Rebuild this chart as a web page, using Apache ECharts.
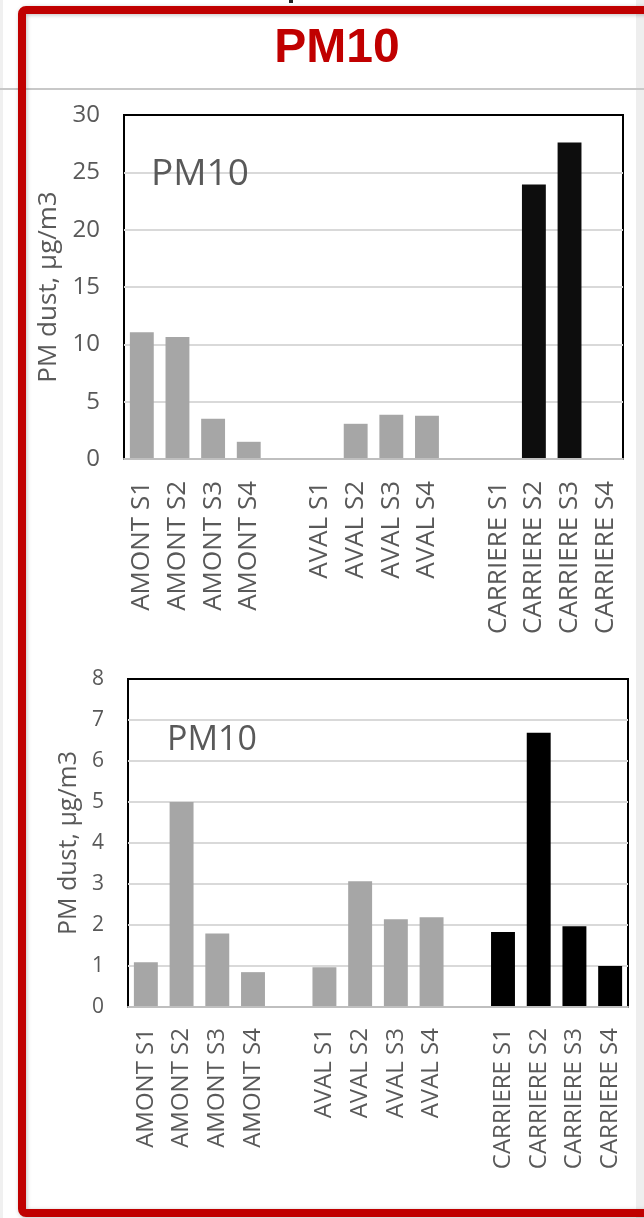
<!DOCTYPE html>
<html>
<head>
<meta charset="utf-8">
<script src="https://cdn.jsdelivr.net/npm/echarts@6/dist/echarts.min.js"></script>
<style>
html,body{margin:0;padding:0;background:#fff;}
#c{width:644px;height:1218px;}
</style>
</head>
<body>
<div id="c"></div>
<script>
const categories = ['AMONT S1','AMONT S2','AMONT S3','AMONT S4',' ','AVAL S1','AVAL S2','AVAL S3','AVAL S4','  ','CARRIERE S1','CARRIERE S2','CARRIERE S3','CARRIERE S4'];
const topValues = [11.05, 10.65, 3.5, 1.5, null, 0, 3.07, 3.86, 3.77, null, 0, 23.93, 27.6, 0];
const bottomValues = [1.09, 5.0, 1.79, 0.85, null, 0.97, 3.07, 2.14, 2.19, null, 1.83, 6.69, 1.97, 1.0];
const topTicks = {min: 0, max: 30, interval: 5};
const bottomTicks = {min: 0, max: 8, interval: 1};
const mainTitle = 'PM10';
const innerTitle = 'PM10';
const yName = 'PM dust, µg/m3';

const GRAY = '#a6a6a6';
const TXT = '#595959';
const FONT = 'Open Sans';

function barData(vals, dark) {
  return vals.map((v, i) => ({
    value: v,
    itemStyle: {color: categories[i].startsWith('CARRIERE') ? dark : GRAY}
  }));
}

function xAxisFor(gi, fs, margin) {
  return {
    type: 'category', gridIndex: gi, data: categories, z: 5,
    axisLine: {show: true, lineStyle: {color: '#bfbfbf', width: 2}},
    axisTick: {show: false},
    axisLabel: {rotate: 90, interval: 0, color: TXT, fontFamily: FONT, fontSize: fs, margin: margin}
  };
}
function yAxisFor(gi, t, fs, nameFs, nameGap) {
  return {
    type: 'value', gridIndex: gi, min: t.min, max: t.max, interval: t.interval,
    name: yName, nameLocation: 'middle', nameGap: nameGap,
    nameTextStyle: {color: TXT, fontFamily: FONT, fontSize: nameFs},
    axisLine: {show: false}, axisTick: {show: false},
    axisLabel: {color: TXT, fontFamily: FONT, fontSize: fs, margin: 24},
    splitLine: {show: true, showMinLine: false, showMaxLine: false, lineStyle: {color: '#d9d9d9', width: 2}}
  };
}

const chart = echarts.init(document.getElementById('c'), null, {renderer: 'canvas'});
chart.setOption({
  backgroundColor: '#ffffff',
  animation: false,
  grid: [
    {left: 124, top: 115, width: 499, height: 344, show: true, borderColor: '#000', borderWidth: 2, backgroundColor: 'transparent'},
    {left: 128, top: 679, width: 500, height: 328, show: true, borderColor: '#000', borderWidth: 2, backgroundColor: 'transparent'}
  ],
  xAxis: [xAxisFor(0, 26, 22), xAxisFor(1, 24, 21)],
  yAxis: [yAxisFor(0, topTicks, 24, 26, 50), yAxisFor(1, bottomTicks, 21, 25, 38)],
  series: [
    {type: 'bar', xAxisIndex: 0, yAxisIndex: 0, data: barData(topValues, '#0d0d0d'), barWidth: '67%'},
    {type: 'bar', xAxisIndex: 1, yAxisIndex: 1, data: barData(bottomValues, '#000000'), barWidth: '67%'}
  ],
  graphic: [
    {type: 'rect', z: -10, shape: {x: 636, y: 0, width: 8, height: 1218}, style: {fill: '#eeeeee'}},
    {type: 'rect', z: -10, shape: {x: 0, y: 0, width: 3, height: 1218}, style: {fill: '#f0f0f0'}},
    {type: 'line', z: -5, shape: {x1: 0, y1: 89, x2: 644, y2: 89}, style: {stroke: '#c8c8c8', lineWidth: 2}},
    {type: 'rect', z: 100, shape: {x: 289, y: 0, width: 4, height: 3}, style: {fill: '#222'}},
    {type: 'rect', z: 100, shape: {x: 22, y: 10, width: 700, height: 1203, r: 4},
      style: {fill: null, stroke: '#c00000', lineWidth: 8, shadowBlur: 4, shadowColor: 'rgba(0,0,0,0.25)', shadowOffsetX: 1, shadowOffsetY: 1}},
    {type: 'text', z: 100, x: 337, y: 49, style: {text: mainTitle, fill: '#c00000', font: 'bold 48px "Liberation Sans", Arial, sans-serif', textAlign: 'center', textVerticalAlign: 'middle'}},
    {type: 'text', z: 100, x: 151, y: 174, style: {text: innerTitle, fill: TXT, font: '37px "Open Sans"', textAlign: 'left', textVerticalAlign: 'middle'}},
    {type: 'text', z: 100, x: 167, y: 740, style: {text: innerTitle, fill: TXT, font: '34px "Open Sans"', textAlign: 'left', textVerticalAlign: 'middle'}}
  ]
});
</script>
</body>
</html>
